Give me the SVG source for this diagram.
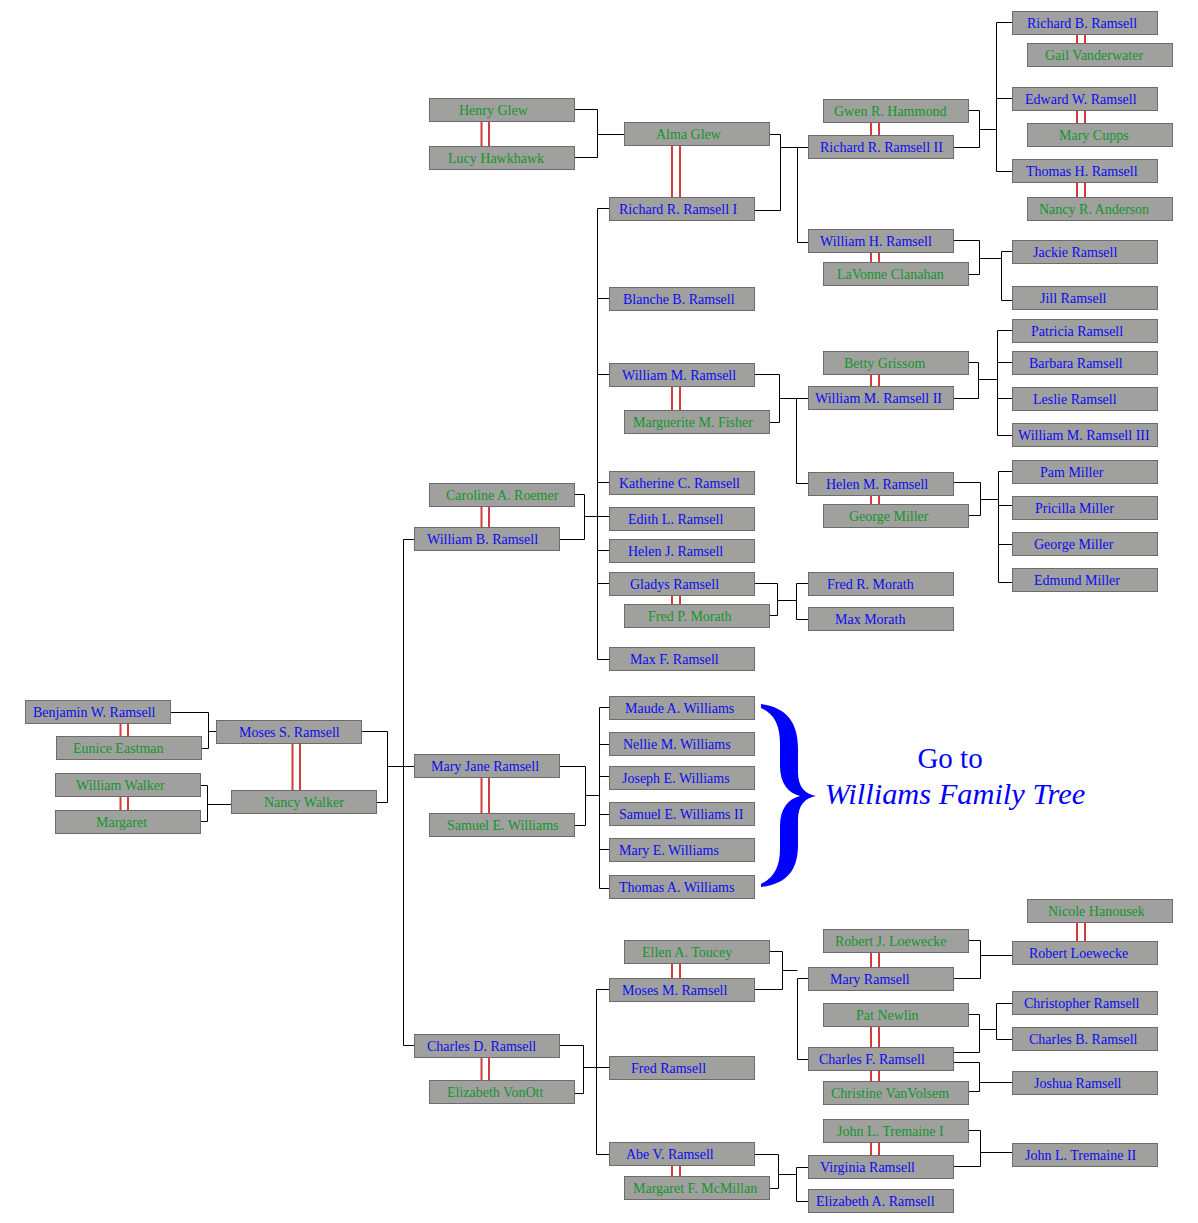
<svg xmlns="http://www.w3.org/2000/svg" width="1198" height="1223" viewBox="0 0 1198 1223">
<style>
  .node rect { fill: #a0a19e; stroke: #6c6c6c; stroke-width: 1; }
  .node text { font-family: "Liberation Serif", "Times New Roman", serif; font-size: 14px; }
  .b { fill: #0c0cf0; }
  .g { fill: #12962b; }
  .conn { fill: none; stroke: #000; stroke-width: 1; }
  .marr { stroke: #d23c3c; stroke-width: 2; fill: none; }
  .goto { font-family: "Liberation Serif", "Times New Roman", serif; font-size: 29px; fill: #0000ff; text-anchor: middle; }
  .goto-i { font-style: italic; font-size: 30.4px; }
</style>
<rect width="1198" height="1223" fill="#ffffff"/>

<g id="connectors" class="conn">
  <path d="M574 109.5 H597.5 V157.5 H574 M597.5 134.5 H624"/>
  <path d="M769 134.5 H780.5 V210.5 H754 M780.5 147.5 H808 M797.5 147.5 V242.5 H808"/>
  <path d="M968 110.5 H979.5 V147.5 H953 M979.5 129.5 H996.5 M996.5 22.5 V171.5 M996.5 22.5 H1012 M996.5 98.5 H1012 M996.5 171.5 H1012"/>
  <path d="M953 240.5 H979.5 V274.5 H968 M979.5 258.5 H1001.5 M1001.5 251.5 V300.5 M1001.5 251.5 H1012 M1001.5 300.5 H1012"/>
  <path d="M574 494.5 H584.5 V539.5 H559 M584.5 516.5 H609 M597.5 208.5 V659.5 M597.5 208.5 H609 M597.5 298.5 H609 M597.5 374.5 H609 M597.5 482.5 H609 M597.5 550.5 H609 M597.5 583.5 H609 M597.5 659.5 H609"/>
  <path d="M754 374.5 H779.5 V422.5 H769 M779.5 398.5 H808 M796.5 398.5 V483.5 H808"/>
  <path d="M968 362.5 H978.5 V398.5 H953 M978.5 379.5 H997.5 M997.5 330.5 V435.5 M997.5 330.5 H1012 M997.5 362.5 H1012 M997.5 398.5 H1012 M997.5 435.5 H1012"/>
  <path d="M953 482.5 H980.5 V515.5 H968 M980.5 499.5 H998.5 M998.5 471.5 V582.5 M998.5 471.5 H1012 M998.5 505.5 H1012 M998.5 544.5 H1012 M998.5 582.5 H1012"/>
  <path d="M754 583.5 H777.5 V615.5 H769 M777.5 600.5 H796.5 M796.5 583.5 V619.5 M796.5 583.5 H808 M796.5 619.5 H808"/>
  <path d="M170 712.5 H208.5 V748.5 H201 M208.5 731.5 H216"/>
  <path d="M200 785.5 H207.5 V821.5 H200 M207.5 804.5 H231"/>
  <path d="M361 731.5 H387.5 V802.5 H376 M387.5 766.5 H414 M403.5 539.5 V1045.5 M403.5 539.5 H414 M403.5 1045.5 H414"/>
  <path d="M559 766.5 H585.5 V825.5 H574 M585.5 795.5 H599.5 M599.5 707.5 V888.5 M599.5 707.5 H609 M599.5 744.5 H609 M599.5 776.5 H609 M599.5 814.5 H609 M599.5 849.5 H609 M599.5 888.5 H609"/>
  <path d="M559 1045.5 H583.5 V1093.5 H574 M583.5 1067.5 H609 M596.5 989.5 V1154.5 M596.5 989.5 H609 M596.5 1154.5 H609"/>
  <path d="M769 951.5 H782.5 V989.5 H754 M782.5 970.5 H797.5 M797.5 978.5 V1059.5 M797.5 978.5 H808 M797.5 1059.5 H808"/>
  <path d="M968 940.5 H980.5 V978.5 H953 M980.5 955.5 H1012"/>
  <path d="M968 1014.5 H979.5 V1052.5 H953 M979.5 1029.5 H996.5 M996.5 1003.5 V1039.5 M996.5 1003.5 H1012 M996.5 1039.5 H1012"/>
  <path d="M953 1062.5 H979.5 V1091.5 H968 M979.5 1082.5 H1012"/>
  <path d="M754 1154.5 H778.5 V1188.5 H769 M778.5 1174.5 H796.5 M796.5 1167.5 V1201.5 M796.5 1167.5 H808 M796.5 1201.5 H808"/>
  <path d="M968 1130.5 H980.5 V1166.5 H953 M980.5 1152.5 H1012"/>
</g>

<g id="marriages" class="marr">
  <path d="M481.5 121 V146 M489 121 V146"/>
  <path d="M672 145 V197 M680 145 V197"/>
  <path d="M871 122 V135 M879 122 V135"/>
  <path d="M1077 34 V43 M1085 34 V43"/>
  <path d="M1077 110 V123 M1085 110 V123"/>
  <path d="M1077 182 V197 M1085 182 V197"/>
  <path d="M871 252 V262 M879 252 V262"/>
  <path d="M672 386 V410 M680 386 V410"/>
  <path d="M871 374 V386 M879 374 V386"/>
  <path d="M871 495 V504 M879 495 V504"/>
  <path d="M481.5 506 V527 M489 506 V527"/>
  <path d="M672 595 V604 M680 595 V604"/>
  <path d="M120.5 723 V736 M128 723 V736"/>
  <path d="M292.5 743 V790 M300 743 V790"/>
  <path d="M120.5 796 V810 M128 796 V810"/>
  <path d="M481.5 777 V813 M489 777 V813"/>
  <path d="M481.5 1057 V1080 M489 1057 V1080"/>
  <path d="M672 963 V978 M680 963 V978"/>
  <path d="M672 1165 V1176 M680 1165 V1176"/>
  <path d="M871 952 V967 M879 952 V967"/>
  <path d="M1077 922 V941 M1085 922 V941"/>
  <path d="M871 1026 V1047 M879 1026 V1047"/>
  <path d="M871 1070 V1081 M879 1070 V1081"/>
  <path d="M871 1142 V1155 M879 1142 V1155"/>
</g>

<g id="n-henry-glew" class="node"><rect x="429.5" y="98.5" width="145" height="23"/><text class="g" x="459" y="115">Henry Glew</text></g>
<g id="n-lucy-hawkhawk" class="node"><rect x="429.5" y="146.5" width="145" height="23"/><text class="g" x="448" y="163">Lucy Hawkhawk</text></g>
<g id="n-alma-glew" class="node"><rect x="624.5" y="122.5" width="145" height="23"/><text class="g" x="656" y="139">Alma Glew</text></g>
<g id="n-richard-r-ramsell-i" class="node"><rect x="609.5" y="197.5" width="145" height="23"/><text class="b" x="619" y="214">Richard R. Ramsell I</text></g>
<g id="n-gwen-r-hammond" class="node"><rect x="823.5" y="99.5" width="145" height="23"/><text class="g" x="834" y="116">Gwen R. Hammond</text></g>
<g id="n-richard-r-ramsell-ii" class="node"><rect x="808.5" y="135.5" width="145" height="23"/><text class="b" x="820" y="152">Richard R. Ramsell II</text></g>
<g id="n-richard-b-ramsell" class="node"><rect x="1012.5" y="11.5" width="145" height="23"/><text class="b" x="1027" y="28">Richard B. Ramsell</text></g>
<g id="n-gail-vanderwater" class="node"><rect x="1027.5" y="43.5" width="145" height="23"/><text class="g" x="1045" y="60">Gail Vanderwater</text></g>
<g id="n-edward-w-ramsell" class="node"><rect x="1012.5" y="87.5" width="145" height="23"/><text class="b" x="1025" y="104">Edward W. Ramsell</text></g>
<g id="n-mary-cupps" class="node"><rect x="1027.5" y="123.5" width="145" height="23"/><text class="g" x="1059" y="140">Mary Cupps</text></g>
<g id="n-thomas-h-ramsell" class="node"><rect x="1012.5" y="159.5" width="145" height="23"/><text class="b" x="1026" y="176">Thomas H. Ramsell</text></g>
<g id="n-nancy-r-anderson" class="node"><rect x="1027.5" y="197.5" width="145" height="23"/><text class="g" x="1039" y="214">Nancy R. Anderson</text></g>
<g id="n-william-h-ramsell" class="node"><rect x="808.5" y="229.5" width="145" height="23"/><text class="b" x="820" y="246">William H. Ramsell</text></g>
<g id="n-lavonne-clanahan" class="node"><rect x="823.5" y="262.5" width="145" height="23"/><text class="g" x="837" y="279">LaVonne Clanahan</text></g>
<g id="n-jackie-ramsell" class="node"><rect x="1012.5" y="240.5" width="145" height="23"/><text class="b" x="1033" y="257">Jackie Ramsell</text></g>
<g id="n-jill-ramsell" class="node"><rect x="1012.5" y="286.5" width="145" height="23"/><text class="b" x="1040" y="303">Jill Ramsell</text></g>
<g id="n-blanche-b-ramsell" class="node"><rect x="609.5" y="287.5" width="145" height="23"/><text class="b" x="623" y="304">Blanche B. Ramsell</text></g>
<g id="n-william-m-ramsell" class="node"><rect x="609.5" y="363.5" width="145" height="23"/><text class="b" x="622" y="380">William M. Ramsell</text></g>
<g id="n-marguerite-m-fisher" class="node"><rect x="624.5" y="410.5" width="145" height="23"/><text class="g" x="633" y="427">Marguerite M. Fisher</text></g>
<g id="n-betty-grissom" class="node"><rect x="823.5" y="351.5" width="145" height="23"/><text class="g" x="844" y="368">Betty Grissom</text></g>
<g id="n-william-m-ramsell-ii" class="node"><rect x="808.5" y="386.5" width="145" height="23"/><text class="b" x="815" y="403">William M. Ramsell II</text></g>
<g id="n-patricia-ramsell" class="node"><rect x="1012.5" y="319.5" width="145" height="23"/><text class="b" x="1031" y="336">Patricia Ramsell</text></g>
<g id="n-barbara-ramsell" class="node"><rect x="1012.5" y="351.5" width="145" height="23"/><text class="b" x="1029" y="368">Barbara Ramsell</text></g>
<g id="n-leslie-ramsell" class="node"><rect x="1012.5" y="387.5" width="145" height="23"/><text class="b" x="1033" y="404">Leslie Ramsell</text></g>
<g id="n-william-m-ramsell-iii" class="node"><rect x="1012.5" y="423.5" width="145" height="23"/><text class="b" x="1018" y="440">William M. Ramsell III</text></g>
<g id="n-helen-m-ramsell" class="node"><rect x="808.5" y="472.5" width="145" height="23"/><text class="b" x="826" y="489">Helen M. Ramsell</text></g>
<g id="n-george-miller-sr" class="node"><rect x="823.5" y="504.5" width="145" height="23"/><text class="g" x="849" y="521">George Miller</text></g>
<g id="n-pam-miller" class="node"><rect x="1012.5" y="460.5" width="145" height="23"/><text class="b" x="1040" y="477">Pam Miller</text></g>
<g id="n-pricilla-miller" class="node"><rect x="1012.5" y="496.5" width="145" height="23"/><text class="b" x="1035" y="513">Pricilla Miller</text></g>
<g id="n-george-miller-jr" class="node"><rect x="1012.5" y="532.5" width="145" height="23"/><text class="b" x="1034" y="549">George Miller</text></g>
<g id="n-edmund-miller" class="node"><rect x="1012.5" y="568.5" width="145" height="23"/><text class="b" x="1034" y="585">Edmund Miller</text></g>
<g id="n-caroline-a-roemer" class="node"><rect x="429.5" y="483.5" width="145" height="23"/><text class="g" x="446" y="500">Caroline A. Roemer</text></g>
<g id="n-william-b-ramsell" class="node"><rect x="414.5" y="527.5" width="145" height="23"/><text class="b" x="427" y="544">William B. Ramsell</text></g>
<g id="n-katherine-c-ramsell" class="node"><rect x="609.5" y="471.5" width="145" height="23"/><text class="b" x="619" y="488">Katherine C. Ramsell</text></g>
<g id="n-edith-l-ramsell" class="node"><rect x="609.5" y="507.5" width="145" height="23"/><text class="b" x="628" y="524">Edith L. Ramsell</text></g>
<g id="n-helen-j-ramsell" class="node"><rect x="609.5" y="539.5" width="145" height="23"/><text class="b" x="628" y="556">Helen J. Ramsell</text></g>
<g id="n-gladys-ramsell" class="node"><rect x="609.5" y="572.5" width="145" height="23"/><text class="b" x="630" y="589">Gladys Ramsell</text></g>
<g id="n-fred-p-morath" class="node"><rect x="624.5" y="604.5" width="145" height="23"/><text class="g" x="648" y="621">Fred P. Morath</text></g>
<g id="n-max-f-ramsell" class="node"><rect x="609.5" y="647.5" width="145" height="23"/><text class="b" x="630" y="664">Max F. Ramsell</text></g>
<g id="n-fred-r-morath" class="node"><rect x="808.5" y="572.5" width="145" height="23"/><text class="b" x="827" y="589">Fred R. Morath</text></g>
<g id="n-max-morath" class="node"><rect x="808.5" y="607.5" width="145" height="23"/><text class="b" x="835" y="624">Max Morath</text></g>
<g id="n-benjamin-w-ramsell" class="node"><rect x="25.5" y="700.5" width="145" height="23"/><text class="b" x="33" y="717">Benjamin W. Ramsell</text></g>
<g id="n-eunice-eastman" class="node"><rect x="56.5" y="736.5" width="145" height="23"/><text class="g" x="73" y="753">Eunice Eastman</text></g>
<g id="n-william-walker" class="node"><rect x="55.5" y="773.5" width="145" height="23"/><text class="g" x="76" y="790">William Walker</text></g>
<g id="n-margaret" class="node"><rect x="55.5" y="810.5" width="145" height="23"/><text class="g" x="96" y="827">Margaret</text></g>
<g id="n-moses-s-ramsell" class="node"><rect x="216.5" y="720.5" width="145" height="23"/><text class="b" x="239" y="737">Moses S. Ramsell</text></g>
<g id="n-nancy-walker" class="node"><rect x="231.5" y="790.5" width="145" height="23"/><text class="g" x="264" y="807">Nancy Walker</text></g>
<g id="n-mary-jane-ramsell" class="node"><rect x="414.5" y="754.5" width="145" height="23"/><text class="b" x="431" y="771">Mary Jane Ramsell</text></g>
<g id="n-samuel-e-williams" class="node"><rect x="429.5" y="813.5" width="145" height="23"/><text class="g" x="447" y="830">Samuel E. Williams</text></g>
<g id="n-maude-a-williams" class="node"><rect x="609.5" y="696.5" width="145" height="23"/><text class="b" x="625" y="713">Maude A. Williams</text></g>
<g id="n-nellie-m-williams" class="node"><rect x="609.5" y="732.5" width="145" height="23"/><text class="b" x="623" y="749">Nellie M. Williams</text></g>
<g id="n-joseph-e-williams" class="node"><rect x="609.5" y="766.5" width="145" height="23"/><text class="b" x="622" y="783">Joseph E. Williams</text></g>
<g id="n-samuel-e-williams-ii" class="node"><rect x="609.5" y="802.5" width="145" height="23"/><text class="b" x="619" y="819">Samuel E. Williams II</text></g>
<g id="n-mary-e-williams" class="node"><rect x="609.5" y="838.5" width="145" height="23"/><text class="b" x="619" y="855">Mary E. Williams</text></g>
<g id="n-thomas-a-williams" class="node"><rect x="609.5" y="875.5" width="145" height="23"/><text class="b" x="619" y="892">Thomas A. Williams</text></g>
<g id="n-charles-d-ramsell" class="node"><rect x="414.5" y="1034.5" width="145" height="23"/><text class="b" x="427" y="1051">Charles D. Ramsell</text></g>
<g id="n-elizabeth-vonott" class="node"><rect x="429.5" y="1080.5" width="145" height="23"/><text class="g" x="447" y="1097">Elizabeth VonOtt</text></g>
<g id="n-ellen-a-toucey" class="node"><rect x="624.5" y="940.5" width="145" height="23"/><text class="g" x="642" y="957">Ellen A. Toucey</text></g>
<g id="n-moses-m-ramsell" class="node"><rect x="609.5" y="978.5" width="145" height="23"/><text class="b" x="622" y="995">Moses M. Ramsell</text></g>
<g id="n-fred-ramsell" class="node"><rect x="609.5" y="1056.5" width="145" height="23"/><text class="b" x="631" y="1073">Fred Ramsell</text></g>
<g id="n-abe-v-ramsell" class="node"><rect x="609.5" y="1142.5" width="145" height="23"/><text class="b" x="626" y="1159">Abe V. Ramsell</text></g>
<g id="n-margaret-f-mcmillan" class="node"><rect x="624.5" y="1176.5" width="145" height="23"/><text class="g" x="633" y="1193">Margaret F. McMillan</text></g>
<g id="n-robert-j-loewecke" class="node"><rect x="823.5" y="929.5" width="145" height="23"/><text class="g" x="835" y="946">Robert J. Loewecke</text></g>
<g id="n-mary-ramsell" class="node"><rect x="808.5" y="967.5" width="145" height="23"/><text class="b" x="830" y="984">Mary Ramsell</text></g>
<g id="n-nicole-hanousek" class="node"><rect x="1027.5" y="899.5" width="145" height="23"/><text class="g" x="1048" y="916">Nicole Hanousek</text></g>
<g id="n-robert-loewecke" class="node"><rect x="1012.5" y="941.5" width="145" height="23"/><text class="b" x="1029" y="958">Robert Loewecke</text></g>
<g id="n-pat-newlin" class="node"><rect x="823.5" y="1003.5" width="145" height="23"/><text class="g" x="856" y="1020">Pat Newlin</text></g>
<g id="n-charles-f-ramsell" class="node"><rect x="808.5" y="1047.5" width="145" height="23"/><text class="b" x="819" y="1064">Charles F. Ramsell</text></g>
<g id="n-christine-vanvolsem" class="node"><rect x="823.5" y="1081.5" width="145" height="23"/><text class="g" x="831" y="1098">Christine VanVolsem</text></g>
<g id="n-christopher-ramsell" class="node"><rect x="1012.5" y="991.5" width="145" height="23"/><text class="b" x="1024" y="1008">Christopher Ramsell</text></g>
<g id="n-charles-b-ramsell" class="node"><rect x="1012.5" y="1027.5" width="145" height="23"/><text class="b" x="1029" y="1044">Charles B. Ramsell</text></g>
<g id="n-joshua-ramsell" class="node"><rect x="1012.5" y="1071.5" width="145" height="23"/><text class="b" x="1034" y="1088">Joshua Ramsell</text></g>
<g id="n-john-l-tremaine-i" class="node"><rect x="823.5" y="1119.5" width="145" height="23"/><text class="g" x="837" y="1136">John L. Tremaine I</text></g>
<g id="n-virginia-ramsell" class="node"><rect x="808.5" y="1155.5" width="145" height="23"/><text class="b" x="820" y="1172">Virginia Ramsell</text></g>
<g id="n-elizabeth-a-ramsell" class="node"><rect x="808.5" y="1189.5" width="145" height="23"/><text class="b" x="816" y="1206">Elizabeth A. Ramsell</text></g>
<g id="n-john-l-tremaine-ii" class="node"><rect x="1012.5" y="1143.5" width="145" height="23"/><text class="b" x="1025" y="1160">John L. Tremaine II</text></g>

<g id="williams-link">
  <path fill="#0000ff" d="M761 704 C786 707 798 722 798 748 L798 772 C798 787 805 794 816 796 C805 798 798 805 798 820 L798 845 C798 871 786 884 761 887 L761 884 C775 877 780 866 780 848 L780 826 C780 809 788 799 800 796 C788 793 780 783 780 766 L780 744 C780 726 775 714 761 708 Z"/>
  <text class="goto" x="950" y="768">Go to</text>
  <text class="goto goto-i" x="955" y="804">Williams Family Tree</text>
</g>
</svg>
